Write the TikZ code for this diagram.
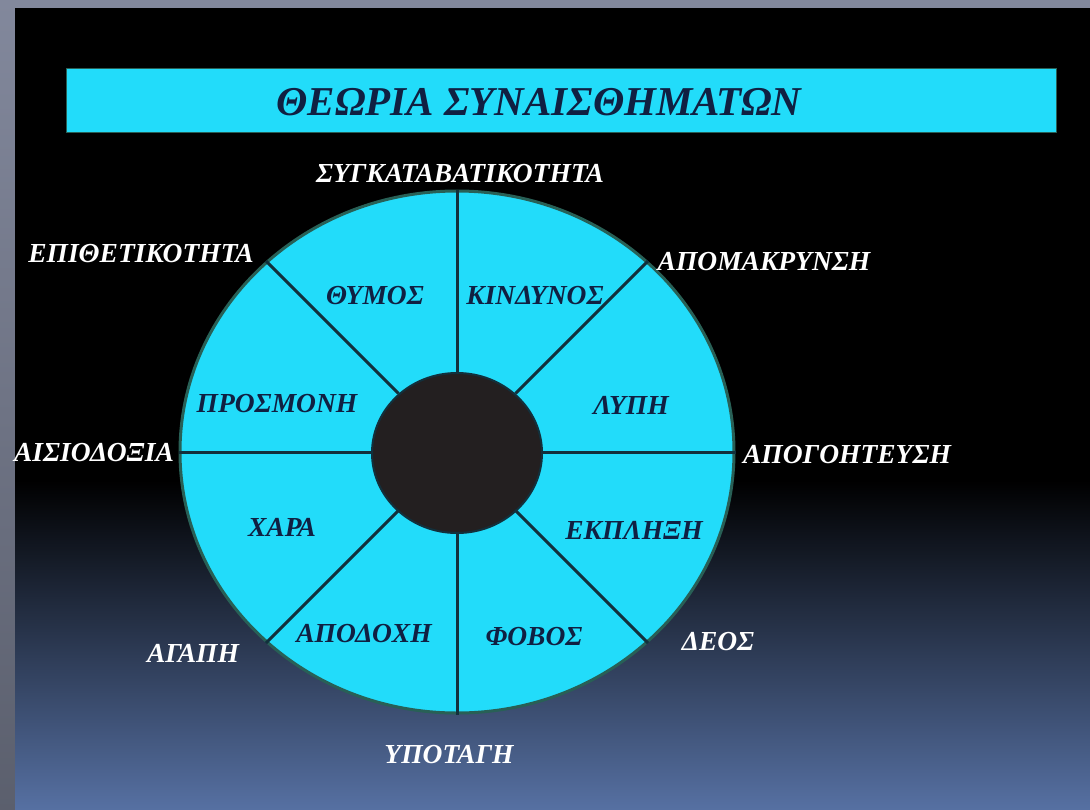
\documentclass[tikz,border=0pt]{standalone}
\usepackage{fontspec}
\setmainfont{Liberation Serif}
\usetikzlibrary{shapes.geometric}

\begin{document}
\begin{tikzpicture}[x=1pt, y=-1pt,
    sector/.style={text=labelnavy, inner sep=0pt,
      font=\fontsize{27.5}{27.5}\selectfont\bfseries\itshape},
    outer/.style={text=white, inner sep=0pt,
      font=\fontsize{27.5}{27.5}\selectfont\bfseries\itshape},
    spoke/.style={draw=spokedark, line width=3pt}]
    \definecolor{wheelcyan}{RGB}{34,220,250}
    \definecolor{labelnavy}{RGB}{16,32,66}
    \definecolor{spokedark}{RGB}{18,48,60}
    \definecolor{rimgreen}{RGB}{40,96,86}
    \definecolor{hubdark}{RGB}{35,31,32}
    \definecolor{framegray}{RGB}{130,136,156}
    \definecolor{slideblue}{RGB}{86,112,162}

    % window frame and slide background
    \useasboundingbox (0,0) rectangle (1090,809);
    \shade[top color=framegray, bottom color=framegray!70!black] (0,0) rectangle (1090,809);
    \fill[black] (15,8) rectangle (1090,480);
    \shade[top color=black, bottom color=slideblue] (15,480) rectangle (1090,809);

    % title bar, text sits a little left of the bar's middle
    \node[draw=rimgreen, line width=1pt, fill=wheelcyan, minimum width=990pt,
      minimum height=64pt, inner sep=0pt] (titlebar) at (561,100) {};
    \node[text=labelnavy, inner sep=0pt,
      font=\fontsize{41}{41}\selectfont\bfseries\itshape]
      (title) at (539,102) {ΘΕΩΡΙΑ ΣΥΝΑΙΣΘΗΜΑΤΩΝ};

    % wheel with spokes and dark hub
    \node[ellipse, draw=rimgreen, line width=3pt, fill=wheelcyan, inner sep=0pt,
      minimum width=554pt, minimum height=522pt] (wheel) at (457,452) {};
    \node[ellipse, inner sep=0pt, minimum width=170pt, minimum height=160pt]
      (hubring) at (457,452) {};
    \foreach \a in {0,45,...,315}
      \draw[spoke] (hubring.\a) -- (wheel.\a);
    \node[ellipse, draw=spokedark, line width=2pt, fill=hubdark, inner sep=0pt,
      minimum width=170pt, minimum height=160pt] (hub) at (457,453) {};

    % emotions inside the wheel
    \node[sector] (thymos)    at (375,296) {ΘΥΜΟΣ};
    \node[sector] (kindynos)  at (535,296) {ΚΙΝΔΥΝΟΣ};
    \node[sector] (prosmoni)  at (277,404) {ΠΡΟΣΜΟΝΗ};
    \node[sector] (lypi)      at (631,405) {ΛΥΠΗ};
    \node[sector] (chara)     at (282,527) {ΧΑΡΑ};
    \node[sector] (ekplixi)   at (634,530) {ΕΚΠΛΗΞΗ};
    \node[sector] (apodochi)  at (364,634) {ΑΠΟΔΟΧΗ};
    \node[sector] (fovos)     at (534,637) {ΦΟΒΟΣ};

    % combinations outside the wheel
    \node[outer] (synkatav)   at (460,174) {ΣΥΓΚΑΤΑΒΑΤΙΚΟΤΗΤΑ};
    \node[outer] (epithet)    at (141,254) {ΕΠΙΘΕΤΙΚΟΤΗΤΑ};
    \node[outer] (apomakr)    at (764,262) {ΑΠΟΜΑΚΡΥΝΣΗ};
    \node[outer] (aisiod)     at (94,453)  {ΑΙΣΙΟΔΟΞΙΑ};
    \node[outer] (apogoit)    at (847,455) {ΑΠΟΓΟΗΤΕΥΣΗ};
    \node[outer] (agapi)      at (193,653) {ΑΓΑΠΗ};
    \node[outer] (deos)       at (718,642) {ΔΕΟΣ};
    \node[outer] (ypotagi)    at (449,755) {ΥΠΟΤΑΓΗ};
  \end{tikzpicture}
\end{document}
